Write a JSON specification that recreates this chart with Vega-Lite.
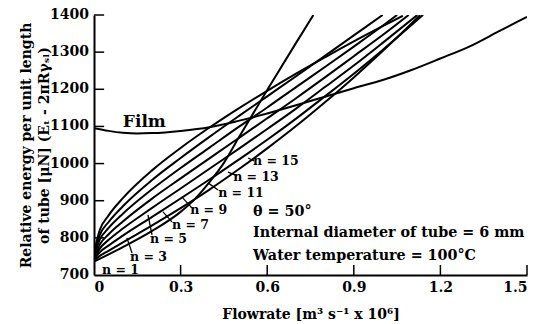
{
  "$schema": "https://vega.github.io/schema/vega-lite/v6.json",
  "width": 433,
  "height": 260,
  "autosize": {"type": "none"},
  "padding": {"left": 94, "top": 15, "right": 9, "bottom": 49},
  "background": "white",
  "config": {
    "view": {"stroke": null},
    "font": "DejaVu Serif",
    "axis": {"labelOverlap": false, "grid": false, "ticks": false, "domainColor": "black", "domainWidth": 2, "labelFont": "DejaVu Serif", "labelFontSize": 14, "labelFontWeight": "bold", "labelColor": "black", "titleFont": "DejaVu Serif", "titleFontSize": 14, "titleFontWeight": "bold", "titleColor": "black"},
    "axisX": {"labelPadding": 5, "titlePadding": 13},
    "axisY": {"labels": false, "titlePadding": 43, "titleLineHeight": 18}
  },
  "datasets": {
    "curves": [
      {"s": "film", "x": 0, "y": 1095}, {"s": "film", "x": 0.05, "y": 1088}, {"s": "film", "x": 0.1, "y": 1083}, {"s": "film", "x": 0.15, "y": 1081}, {"s": "film", "x": 0.2, "y": 1082}, {"s": "film", "x": 0.3, "y": 1088}, {"s": "film", "x": 0.4, "y": 1098}, {"s": "film", "x": 0.5, "y": 1115}, {"s": "film", "x": 0.6, "y": 1135}, {"s": "film", "x": 0.7, "y": 1157}, {"s": "film", "x": 0.8, "y": 1180}, {"s": "film", "x": 0.9, "y": 1203}, {"s": "film", "x": 1.0, "y": 1225}, {"s": "film", "x": 1.1, "y": 1252}, {"s": "film", "x": 1.2, "y": 1283}, {"s": "film", "x": 1.3, "y": 1315}, {"s": "film", "x": 1.4, "y": 1355}, {"s": "film", "x": 1.5, "y": 1395},
      {"s": "n15", "x": 0, "y": 760}, {"s": "n15", "x": 0.02, "y": 821}, {"s": "n15", "x": 0.05, "y": 860}, {"s": "n15", "x": 0.1, "y": 907}, {"s": "n15", "x": 0.2, "y": 981}, {"s": "n15", "x": 0.3, "y": 1042}, {"s": "n15", "x": 0.4, "y": 1097}, {"s": "n15", "x": 0.5, "y": 1148}, {"s": "n15", "x": 0.6, "y": 1196}, {"s": "n15", "x": 0.7, "y": 1242}, {"s": "n15", "x": 0.8, "y": 1286}, {"s": "n15", "x": 0.9, "y": 1329}, {"s": "n15", "x": 1.0, "y": 1370}, {"s": "n15", "x": 1.07, "y": 1398},
      {"s": "n13", "x": 0, "y": 755}, {"s": "n13", "x": 0.02, "y": 808}, {"s": "n13", "x": 0.05, "y": 842}, {"s": "n13", "x": 0.1, "y": 885}, {"s": "n13", "x": 0.2, "y": 955}, {"s": "n13", "x": 0.3, "y": 1015}, {"s": "n13", "x": 0.4, "y": 1072}, {"s": "n13", "x": 0.5, "y": 1127}, {"s": "n13", "x": 0.6, "y": 1181}, {"s": "n13", "x": 0.7, "y": 1235}, {"s": "n13", "x": 0.8, "y": 1290}, {"s": "n13", "x": 0.9, "y": 1345}, {"s": "n13", "x": 1.0, "y": 1400},
      {"s": "n11", "x": 0, "y": 750}, {"s": "n11", "x": 0.02, "y": 795}, {"s": "n11", "x": 0.05, "y": 826}, {"s": "n11", "x": 0.1, "y": 865}, {"s": "n11", "x": 0.2, "y": 930}, {"s": "n11", "x": 0.3, "y": 988}, {"s": "n11", "x": 0.4, "y": 1043}, {"s": "n11", "x": 0.5, "y": 1098}, {"s": "n11", "x": 0.6, "y": 1151}, {"s": "n11", "x": 0.7, "y": 1206}, {"s": "n11", "x": 0.8, "y": 1260}, {"s": "n11", "x": 0.9, "y": 1315}, {"s": "n11", "x": 1.0, "y": 1371}, {"s": "n11", "x": 1.05, "y": 1400},
      {"s": "n9", "x": 0, "y": 745}, {"s": "n9", "x": 0.02, "y": 782}, {"s": "n9", "x": 0.05, "y": 809}, {"s": "n9", "x": 0.1, "y": 844}, {"s": "n9", "x": 0.2, "y": 905}, {"s": "n9", "x": 0.3, "y": 960}, {"s": "n9", "x": 0.4, "y": 1014}, {"s": "n9", "x": 0.5, "y": 1068}, {"s": "n9", "x": 0.6, "y": 1122}, {"s": "n9", "x": 0.7, "y": 1176}, {"s": "n9", "x": 0.8, "y": 1232}, {"s": "n9", "x": 0.9, "y": 1289}, {"s": "n9", "x": 1.0, "y": 1346}, {"s": "n9", "x": 1.09, "y": 1400},
      {"s": "n7", "x": 0, "y": 742}, {"s": "n7", "x": 0.02, "y": 771}, {"s": "n7", "x": 0.05, "y": 794}, {"s": "n7", "x": 0.1, "y": 825}, {"s": "n7", "x": 0.2, "y": 880}, {"s": "n7", "x": 0.3, "y": 933}, {"s": "n7", "x": 0.4, "y": 986}, {"s": "n7", "x": 0.5, "y": 1039}, {"s": "n7", "x": 0.6, "y": 1093}, {"s": "n7", "x": 0.7, "y": 1148}, {"s": "n7", "x": 0.8, "y": 1206}, {"s": "n7", "x": 0.9, "y": 1264}, {"s": "n7", "x": 1.0, "y": 1325}, {"s": "n7", "x": 1.12, "y": 1400},
      {"s": "n5", "x": 0, "y": 740}, {"s": "n5", "x": 0.02, "y": 761}, {"s": "n5", "x": 0.05, "y": 779}, {"s": "n5", "x": 0.1, "y": 806}, {"s": "n5", "x": 0.2, "y": 856}, {"s": "n5", "x": 0.3, "y": 906}, {"s": "n5", "x": 0.4, "y": 957}, {"s": "n5", "x": 0.5, "y": 1010}, {"s": "n5", "x": 0.6, "y": 1064}, {"s": "n5", "x": 0.7, "y": 1121}, {"s": "n5", "x": 0.8, "y": 1181}, {"s": "n5", "x": 0.9, "y": 1242}, {"s": "n5", "x": 1.0, "y": 1306}, {"s": "n5", "x": 1.1, "y": 1373}, {"s": "n5", "x": 1.14, "y": 1400},
      {"s": "n3", "x": 0, "y": 738}, {"s": "n3", "x": 0.02, "y": 751}, {"s": "n3", "x": 0.05, "y": 765}, {"s": "n3", "x": 0.1, "y": 788}, {"s": "n3", "x": 0.2, "y": 833}, {"s": "n3", "x": 0.3, "y": 880}, {"s": "n3", "x": 0.4, "y": 930}, {"s": "n3", "x": 0.5, "y": 984}, {"s": "n3", "x": 0.6, "y": 1041}, {"s": "n3", "x": 0.7, "y": 1101}, {"s": "n3", "x": 0.8, "y": 1165}, {"s": "n3", "x": 0.9, "y": 1232}, {"s": "n3", "x": 1.0, "y": 1303}, {"s": "n3", "x": 1.1, "y": 1377}, {"s": "n3", "x": 1.13, "y": 1400},
      {"s": "n1", "x": 0, "y": 736}, {"s": "n1", "x": 0.1, "y": 775}, {"s": "n1", "x": 0.2, "y": 818}, {"s": "n1", "x": 0.3, "y": 870}, {"s": "n1", "x": 0.35, "y": 905}, {"s": "n1", "x": 0.4, "y": 950}, {"s": "n1", "x": 0.45, "y": 1002}, {"s": "n1", "x": 0.5, "y": 1068}, {"s": "n1", "x": 0.6, "y": 1198}, {"s": "n1", "x": 0.7, "y": 1325}, {"s": "n1", "x": 0.76, "y": 1400}
    ],
    "labels": [
      {"t": "n = 15", "x": 0.551, "y": 1007},
      {"t": "n = 13", "x": 0.482, "y": 964},
      {"t": "n = 11", "x": 0.43, "y": 921},
      {"t": "n = 9", "x": 0.333, "y": 875},
      {"t": "n = 7", "x": 0.27, "y": 835},
      {"t": "n = 5", "x": 0.194, "y": 797},
      {"t": "n = 3", "x": 0.125, "y": 748},
      {"t": "n = 1", "x": 0.028, "y": 713}
    ],
    "leaders": [
      {"x": 0.534, "y": 1015, "x2": 0.555, "y2": 1007},
      {"x": 0.464, "y": 977, "x2": 0.496, "y2": 967},
      {"x": 0.395, "y": 948, "x2": 0.43, "y2": 929},
      {"x": 0.308, "y": 907, "x2": 0.34, "y2": 880},
      {"x": 0.239, "y": 870, "x2": 0.27, "y2": 843},
      {"x": 0.187, "y": 862, "x2": 0.201, "y2": 808},
      {"x": 0.114, "y": 800, "x2": 0.132, "y2": 759}
    ],
    "xticks": [{"v": 0.3}, {"v": 0.6}, {"v": 0.9}, {"v": 1.2}, {"v": 1.5}],
    "yticks": [{"v": 800}, {"v": 900}, {"v": 1000}, {"v": 1100}, {"v": 1200}, {"v": 1300}, {"v": 1400}],
    "ylabels": [{"v": 700}, {"v": 800}, {"v": 900}, {"v": 1000}, {"v": 1100}, {"v": 1200}, {"v": 1300}, {"v": 1400}],
    "notes": [
      {"t": "θ = 50°", "x": 0.551, "y": 870},
      {"t": "Internal diameter of tube = 6 mm", "x": 0.551, "y": 813},
      {"t": "Water temperature = 100°C", "x": 0.551, "y": 751}
    ],
    "film": [{"t": "Film", "x": 0.1, "y": 1112}]
  },
  "layer": [
    {
      "data": {"name": "curves"},
      "mark": {"type": "line", "interpolate": "monotone", "color": "black", "strokeWidth": 2, "clip": true},
      "encoding": {
        "x": {"field": "x", "type": "quantitative", "scale": {"domain": [0, 1.5], "nice": false, "zero": false},
          "axis": {"values": [0, 0.3, 0.6, 0.9, 1.2, 1.5], "labelExpr": "datum.value == 0 ? '0' : format(datum.value, '.1f')", "title": "Flowrate [m³ s⁻¹ x 10⁶]"}},
        "y": {"field": "y", "type": "quantitative", "scale": {"domain": [700, 1400], "nice": false, "zero": false},
          "axis": {"values": [700, 800, 900, 1000, 1100, 1200, 1300, 1400], "title": ["Relative energy per unit length", "of tube [μN] (Eₜ - 2πRγₛₗ)"]}},
        "detail": {"field": "s"}
      }
    },
    {
      "data": {"name": "xticks"},
      "mark": {"type": "rule", "color": "black", "strokeWidth": 1.5},
      "encoding": {"x": {"field": "v", "type": "quantitative"}, "y": {"datum": 700}, "y2": {"datum": 727}}
    },
    {
      "data": {"name": "yticks"},
      "mark": {"type": "rule", "color": "black", "strokeWidth": 1.5},
      "encoding": {"y": {"field": "v", "type": "quantitative"}, "x": {"datum": 0}, "x2": {"datum": 0.035}}
    },
    {
      "data": {"name": "ylabels"},
      "mark": {"type": "text", "align": "right", "baseline": "middle", "dx": -5, "font": "DejaVu Serif", "fontSize": 14, "fontWeight": "bold", "color": "black"},
      "encoding": {"y": {"field": "v", "type": "quantitative"}, "x": {"datum": 0}, "text": {"field": "v", "type": "quantitative", "format": "d"}}
    },
    {
      "data": {"name": "leaders"},
      "mark": {"type": "rule", "color": "black", "strokeWidth": 1.3},
      "encoding": {"x": {"field": "x", "type": "quantitative"}, "y": {"field": "y", "type": "quantitative"}, "x2": {"field": "x2"}, "y2": {"field": "y2"}}
    },
    {
      "data": {"name": "labels"},
      "mark": {"type": "text", "align": "left", "baseline": "middle", "font": "DejaVu Serif", "fontSize": 12.5, "fontWeight": "bold", "color": "black"},
      "encoding": {"x": {"field": "x", "type": "quantitative"}, "y": {"field": "y", "type": "quantitative"}, "text": {"field": "t"}}
    },
    {
      "data": {"name": "notes"},
      "mark": {"type": "text", "align": "left", "baseline": "middle", "font": "DejaVu Serif", "fontSize": 14.3, "fontWeight": "bold", "color": "black"},
      "encoding": {"x": {"field": "x", "type": "quantitative"}, "y": {"field": "y", "type": "quantitative"}, "text": {"field": "t"}}
    },
    {
      "data": {"name": "film"},
      "mark": {"type": "text", "align": "left", "baseline": "middle", "font": "DejaVu Serif", "fontSize": 17, "fontWeight": "bold", "color": "black"},
      "encoding": {"x": {"field": "x", "type": "quantitative"}, "y": {"field": "y", "type": "quantitative"}, "text": {"field": "t"}}
    }
  ]
}
